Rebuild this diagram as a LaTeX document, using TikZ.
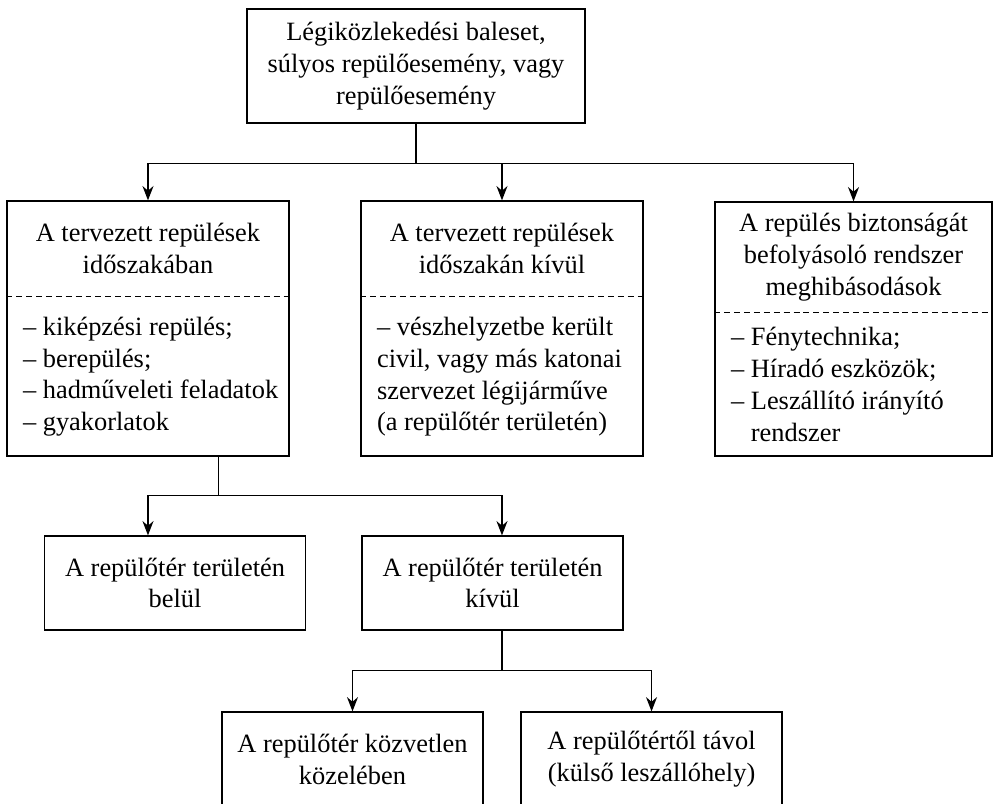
\documentclass[tikz,border=0pt]{standalone}
\usepackage{fontspec}
\setmainfont{Liberation Serif}
\usepackage{tikz}
\usetikzlibrary{arrows.meta,calc}

\begin{document}
\begin{tikzpicture}[
    every node/.style={font=\fontsize{12}{14.5}\selectfont},
    box/.style={
        draw, line width=0.6pt,
        minimum width=4.17cm, minimum height=1.5cm,
        align=center, inner sep=0pt
    },
    % title part of the split boxes
    head/.style={anchor=north, align=center, inner sep=0pt},
    % list part of the split boxes
    lista/.style={anchor=north west, align=left, inner xsep=0.26cm, inner ysep=0pt},
    trenn/.style={line width=0.6pt, dash pattern=on 2.7pt off 1.8pt},
    arrow/.style={-{Stealth[length=6.5pt,width=5pt]}, line width=0.6pt},
]
    \useasboundingbox (0,0) rectangle (15.863,-12.828);

    % root
    \node[box, minimum width=5.4cm, minimum height=1.82cm] (baleset) at (6.646,-1.054) {
        Légiközlekedési baleset,\\
        súlyos repülőesemény, vagy\\
        repülőesemény
    };

    % 3 split boxes in the middle row
    \node[box, minimum width=4.505cm, minimum height=4.074cm] (tervben) at (2.364,-5.248) {};
    \node[box, minimum width=4.505cm, minimum height=4.074cm] (tervkivul) at (8.019,-5.248) {};
    \node[box, minimum width=4.425cm, minimum height=4.058cm] (rendszer) at (13.635,-5.256) {};

    \node[head, minimum height=1.518cm] (tervben-h) at (tervben.north)
        {A tervezett repülések\\ időszakában};
    \node[head, minimum height=1.518cm] (tervkivul-h) at (tervkivul.north)
        {A tervezett repülések\\ időszakán kívül};
    \node[head, minimum height=1.757cm] (rendszer-h) at (rendszer.north)
        {A repülés biztonságát\\ befolyásoló rendszer\\ meghibásodások};

    % dashed separators
    \foreach \bx in {tervben, tervkivul, rendszer}
      \draw[trenn] (\bx.west |- \bx-h.south) -- (\bx.east |- \bx-h.south);

    \node[lista, minimum height=2.556cm] (tervben-l) at (tervben.west |- tervben-h.south) {
        – kiképzési repülés;\\
        – berepülés;\\
        – hadműveleti feladatok\\
        – gyakorlatok
    };
    \node[lista, minimum height=2.556cm] (tervkivul-l) at (tervkivul.west |- tervkivul-h.south) {
        – vészhelyzetbe került\\
        civil, vagy más katonai\\
        szervezet légijárműve\\
        (a repülőtér területén)
    };
    \node[lista, minimum height=2.3cm] (rendszer-l) at (rendszer.west |- rendszer-h.south) {
        – Fénytechnika;\\
        – Híradó eszközök;\\
        – Leszállító irányító\\
        \phantom{–} rendszer
    };

    % lower levels
    \node[box] (belul) at (2.796,-9.313) {A repülőtér területén\\ belül};
    \node[box] (kivul) at (7.868,-9.313) {A repülőtér területén\\ kívül};
    \node[box] (kozel) at (5.631,-12.125) {A repülőtér közvetlen\\ közelében};
    \node[box] (tavol) at (10.408,-12.125) {A repülőtértől távol\\ (külső leszállóhely)};

    % connectors
    \foreach \bx in {tervben, tervkivul, rendszer}
      \draw[arrow] (baleset.south) -- ++(0,-0.64) -| (\bx.north);

    \coordinate (tervben-s) at ($(tervben.south)!0.5!(tervben.south east)$);
    \draw[arrow] (tervben-s) -- ++(0,-0.62) -| (belul.north -| tervben.south);
    \draw[arrow] (tervben-s) -- ++(0,-0.62) -| (kivul.north -| tervkivul.south);

    \foreach \bx in {kozel, tavol}
      \draw[arrow] (kivul.south -| tervkivul.south) -- ++(0,-0.64) -| (\bx.north);
\end{tikzpicture}
\end{document}
